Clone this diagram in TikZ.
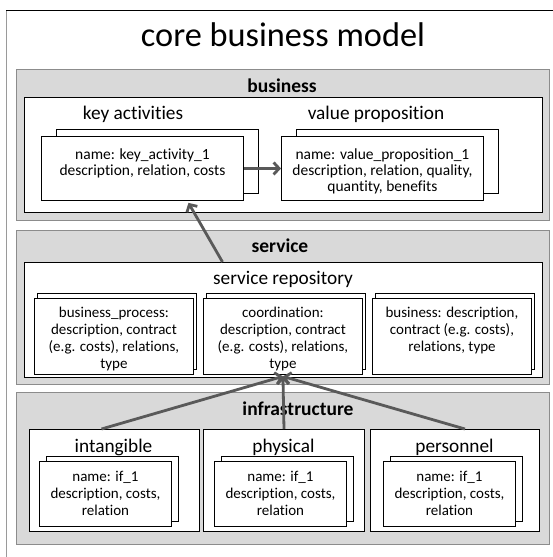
\documentclass[tikz,border=0pt]{standalone}
\usepackage{fontspec}
\setmainfont{Carlito}[Ligatures={NoCommon,NoContextual}]
\usetikzlibrary{arrows.meta}
\definecolor{panelfill}{HTML}{D9D9D9}
\definecolor{panelline}{HTML}{8C8C8C}
\definecolor{arrowcol}{HTML}{595959}
\definecolor{framegray}{HTML}{9A9A9A}
\tikzset{
  panel/.style={draw=panelline, fill=panelfill, line width=1pt, inner sep=0pt, anchor=north west},
  whitebox/.style={draw=black, fill=white, line width=1pt, inner sep=0pt, anchor=north west},
  cardbox/.style={draw=black, fill=white, line width=0.9pt, inner sep=0pt, anchor=north west},
  cardtext/.style={anchor=north, align=center, inner sep=0pt, font=\fontsize{15}{17}\selectfont},
  bigcardtext/.style={cardtext, font=\fontsize{15.5}{16.2}\selectfont},
  paneltitle/.style={font=\fontsize{19.5}{22}\selectfont\bfseries, inner sep=0pt, anchor=base},
  boxtitle/.style={font=\fontsize{19.3}{22}\selectfont, inner sep=0pt, anchor=base},
  flow/.style={draw=arrowcol, line width=2.8pt, -{Straight Barb[length=5.5pt,width=12pt]}},
}
\begin{document}
\begin{tikzpicture}[x=1pt,y=-1pt]
\useasboundingbox (0,0) rectangle (553,557);
\fill[white] (0,0) rectangle (553,557);
% outer frame
\draw[framegray, line width=1pt] (6,10) -- (6,557);
\draw[black, line width=1pt] (6,10) -- (553,10);
\node[font=\fontsize{34.3}{40}\selectfont, inner sep=0pt, anchor=base] (title) at (283,46) {core business model};

% ---------- business ----------
\node[panel, minimum width=533pt, minimum height=151pt] (bizpanel) at (16,69) {};
\node[paneltitle] (bizlabel) at (282,92) {business};
\node[whitebox, minimum width=518pt, minimum height=115pt] (bizin) at (24,97) {};
\node[boxtitle] (kalabel) at (133,119.5) {key activities};
\node[boxtitle] (vplabel) at (376,119.5) {value proposition};
\node[cardbox, minimum width=202pt, minimum height=64pt] (kaback) at (56,129) {};
\node[cardbox, minimum width=202pt, minimum height=64pt] (ka) at (41,136) {};
\node[bigcardtext] (katext) at ([yshift=-12.5pt]ka.north) {name: key\_activity\_1\\description, relation, costs};
\node[cardbox, minimum width=202pt, minimum height=64pt] (vpback) at (296,129) {};
\node[cardbox, minimum width=202pt, minimum height=64pt] (vp) at (281,136) {};
\node[bigcardtext] (vptext) at ([yshift=-12.5pt]vp.north) {name: value\_proposition\_1\\description, relation, quality,\\quantity, benefits};
\draw[flow] (ka.east) -- (vp.west);

% ---------- service ----------
\node[panel, minimum width=533pt, minimum height=154pt] (srvpanel) at (16,230) {};
\node[paneltitle] (srvlabel) at (280,252.5) {service};
\node[whitebox, minimum width=518pt, minimum height=115pt] (srvin) at (24,262) {};
\node[boxtitle] (srlabel) at (283,284) {service repository};
\node[cardbox, minimum width=159pt, minimum height=76pt] (sc1back) at (37,293) {};
\node[cardbox, minimum width=159pt, minimum height=76pt] (sc1) at (34,298) {};
\node[cardtext] (sc1text) at ([yshift=-9pt]sc1.north) {business\_process:\\description, contract\\(e.g. costs), relations,\\type};
\node[cardbox, minimum width=159pt, minimum height=76pt] (sc2back) at (206,293) {};
\node[cardbox, minimum width=159pt, minimum height=76pt] (sc2) at (203,298) {};
\node[cardtext] (sc2text) at ([yshift=-9pt]sc2.north) {coordination:\\description, contract\\(e.g. costs), relations,\\type};
\node[cardbox, minimum width=159pt, minimum height=76pt] (sc3back) at (375,293) {};
\node[cardbox, minimum width=159pt, minimum height=76pt] (sc3) at (372,298) {};
\node[cardtext] (sc3text) at ([yshift=-9pt]sc3.north) {business: description,\\contract (e.g. costs),\\relations, type};

% ---------- infrastructure ----------
\node[panel, minimum width=533pt, minimum height=152pt] (infpanel) at (16,392) {};
\node[paneltitle] (inflabel) at (298,415.5) {infrastructure};
\node[whitebox, minimum width=170pt, minimum height=102pt] (intang) at (29,429) {};
\node[whitebox, minimum width=161pt, minimum height=102pt] (phys) at (203,429) {};
\node[whitebox, minimum width=169pt, minimum height=102pt] (pers) at (370,429) {};
\node[boxtitle] (intanglabel) at (113.5,452) {intangible};
\node[boxtitle] (physlabel) at (283.5,452) {physical};
\node[boxtitle] (perslabel) at (454.5,452) {personnel};
\node[cardbox, minimum width=132pt, minimum height=65pt] (ic1back) at (46,456) {};
\node[cardbox, minimum width=132pt, minimum height=65pt] (ic1) at (39,461) {};
\node[cardtext] (ic1text) at ([yshift=-9.5pt]ic1.north) {name: if\_1\\description, costs,\\relation};
\node[cardbox, minimum width=132pt, minimum height=65pt] (ic2back) at (221,456) {};
\node[cardbox, minimum width=132pt, minimum height=65pt] (ic2) at (214,461) {};
\node[cardtext] (ic2text) at ([yshift=-9.5pt]ic2.north) {name: if\_1\\description, costs,\\relation};
\node[cardbox, minimum width=132pt, minimum height=65pt] (ic3back) at (390,456) {};
\node[cardbox, minimum width=132pt, minimum height=65pt] (ic3) at (383,461) {};
\node[cardtext] (ic3text) at ([yshift=-9.5pt]ic3.north) {name: if\_1\\description, costs,\\relation};

% ---------- connectors ----------
\draw[flow] ([xshift=-61pt]srvin.north) -- ([xshift=46pt,yshift=-2pt]ka.south);
\draw[flow] ([xshift=-13pt]intang.north) -- ([yshift=-1.5pt]sc2.south);
\draw[flow] (phys.north) -- ([yshift=-1.5pt]sc2.south);
\draw[flow] ([xshift=10pt]pers.north) -- ([yshift=-1.5pt]sc2.south);
\end{tikzpicture}
\end{document}
